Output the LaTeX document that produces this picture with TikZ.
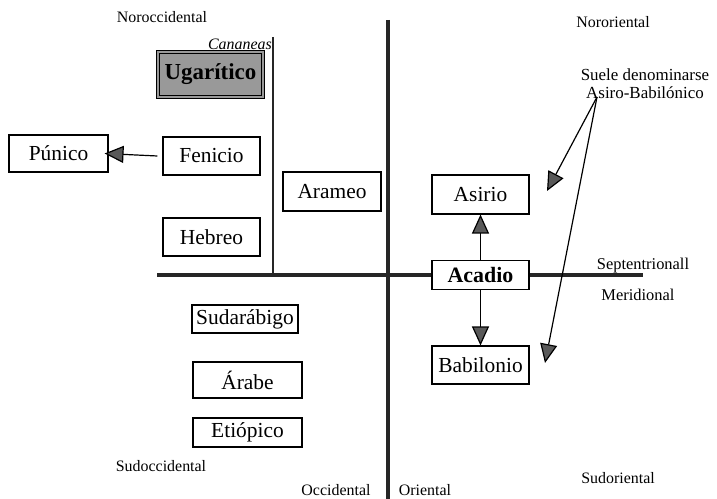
\documentclass[tikz,border=0pt]{standalone}
\usepackage{fontspec}
\setmainfont{Liberation Serif}
\usetikzlibrary{arrows.meta}

\tikzset{
  lang/.style={draw=black, line width=1.1bp, inner sep=0pt, anchor=center,
    font=\fontsize{21.5}{23}\selectfont},
  region/.style={font=\fontsize{16}{18}\selectfont, inner sep=0pt},
  axis/.style={line width=3.6bp, draw=black!85},
  subaxis/.style={line width=2.4bp, draw=black!85},
  link/.style={line width=1.2bp,
    -{Triangle[length=19bp,width=17bp,fill=black!65]}},
}

\begin{document}
\begin{tikzpicture}[x=1bp, y=-1bp]
\useasboundingbox (0,0) rectangle (717,499);

% compass labels
\node[region] (nw) at (162,17) {Noroccidental};
\node[region] (ne) at (613,22) {Nororiental};
\node[region] (sw) at (161,466) {Sudoccidental};
\node[region] (se) at (618,478) {Sudoriental};
\node[region] (occ) at (336,490) {Occidental};
\node[region] (ori) at (425,490) {Oriental};
\node[region, font=\fontsize{16.5}{18}\selectfont] (sep) at (643,266) {Septentrionall};
\node[region, font=\fontsize{16.5}{18}\selectfont] (mer) at (638,295) {Meridional};
\node[region, align=center, font=\fontsize{17}{18}\selectfont] (note) at (645,84)
  {Suele denominarse\\Asiro-Babilónico};

% Canaanite group
\node[font=\fontsize{16}{18}\selectfont\itshape, anchor=east, inner sep=0pt] (can) at (272,44) {Cananeas};
\coordinate (cantop) at (273,37);
\coordinate (canbot) at (273,274);

\node[lang, minimum width=105bp, minimum height=45bp, fill=black!40,
      double=black!40, double distance=2.5bp, line width=1.2bp,
      font=\fontsize{23}{25}\selectfont\bfseries] (uga) at (210.5,74.5) {Ugarítico};
\node[lang, minimum width=97bp, minimum height=38bp] (fen) at (211.5,156) {Fenicio};
\node[lang, minimum width=99bp, minimum height=37bp] (pun) at (58.5,153.5) {Púnico};
\node[lang, minimum width=97bp, minimum height=38bp] (heb) at (211.5,237) {Hebreo};
\node[lang, minimum width=98bp, minimum height=39bp] (ara) at (332,191.5) {Arameo};

% south-west group
\node[lang, minimum width=106bp, minimum height=28bp] (sud) at (245,319) {Sudarábigo};
\node[lang, minimum width=109bp, minimum height=36bp] (arb) at (247.5,380) {Árabe};
\node[lang, minimum width=109bp, minimum height=29bp] (eti) at (247.5,432.5) {Etiópico};

% eastern group
\node[lang, minimum width=97bp, minimum height=39bp] (asi) at (480.5,194.5) {Asirio};
\node[lang, minimum width=97bp, minimum height=29bp,
      font=\fontsize{22}{24}\selectfont\bfseries] (aca) at (480.5,275) {Acadio};
\node[lang, minimum width=97bp, minimum height=38bp] (bab) at (480.5,365) {Babilonio};

% axes
\coordinate (vtop) at (388,20);
\coordinate (vbot) at (388,499);
\coordinate (hleft) at (157,275);
\coordinate (hright) at (643,275);
\draw[axis] (vtop) -- (vbot);
\draw[axis] (hleft) -- (aca.west);
\draw[axis] (aca.east) -- (hright);
\draw[subaxis] (cantop) -- (canbot);

% derivations
\draw[link] (fen.west) ++(-5,0) -- ([xshift=-4bp]pun.east);
\draw[link] (aca.north) -- (asi.south);
\draw[link] (aca.south) -- (bab.north);

% note pointers
\coordinate (nsrc) at (597,97);
\coordinate (nasi) at (547,191);
\coordinate (nbab) at (545,363);
\draw[link] (nsrc) -- (nasi);
\draw[link] (nsrc) -- (nbab);
\end{tikzpicture}
\end{document}
